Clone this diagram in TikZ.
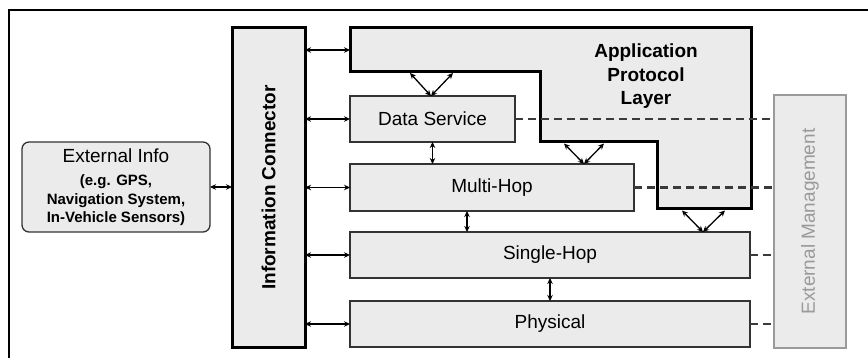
\documentclass[tikz,border=0pt]{standalone}
\usepackage{fontspec}
\setmainfont{Liberation Sans}
\usetikzlibrary{arrows.meta}
\definecolor{boxfill}{HTML}{EBEBEB}
\definecolor{edgegray}{HTML}{333333}
\definecolor{mgmtgray}{HTML}{9A9A9A}
\definecolor{dashgray}{HTML}{3A3A3A}

\begin{document}
\begin{tikzpicture}[x=1pt,y=-1pt,
  layerbox/.style={draw=edgegray, line width=1.2pt, fill=boxfill, inner sep=0pt, outer sep=0pt,
    font=\fontsize{19}{23}\selectfont},
  thickbox/.style={draw=black, line width=3pt, fill=boxfill, inner sep=0pt, outer sep=0pt},
  mgmtbox/.style={draw=mgmtgray, line width=1.4pt, fill=boxfill, inner sep=0pt, outer sep=0pt},
  link/.style={{Stealth[length=6pt,width=5.5pt]}-{Stealth[length=6pt,width=5.5pt]}, line width=1.3pt, black},
  mlink/.style={dash pattern=on 8pt off 5pt, draw=dashgray, line width=2.2pt},
  bigbold/.style={font=\fontsize{19}{23.5}\selectfont\bfseries, align=center},
]
\useasboundingbox (0,0) rectangle (868,358);

% page frame
\draw[line width=2pt] (9,358) -- (9,10) -- (868,10);

% application protocol layer outline
\coordinate (a1) at (350,28);
\coordinate (a2) at (751,28);
\coordinate (a3) at (751,209);
\coordinate (a4) at (657,209);
\coordinate (a5) at (657,142);
\coordinate (a6) at (540,142);
\coordinate (a7) at (540,71.5);
\coordinate (a8) at (350,71.5);
\draw[thickbox, line join=miter] (a1) -- (a2) -- (a3) -- (a4) -- (a5) -- (a6) -- (a7) -- (a8) -- cycle;
\node[bigbold] (app) at (646,76.5) {Application\\Protocol\\Layer};
\coordinate (appW) at (350,50);

% protocol layers
\node[layerbox, minimum width=165pt, minimum height=46pt] (ds) at (432.5,119) {Data Service};
\node[layerbox, minimum width=284pt, minimum height=47pt] (mh) at (492,187.5) {Multi-Hop};
\node[layerbox, minimum width=400pt, minimum height=46pt] (sh) at (550,255) {Single-Hop};
\node[layerbox, minimum width=400pt, minimum height=46pt] (ph) at (550,324) {Physical};

% information connector
\node[thickbox, minimum width=73pt, minimum height=319pt] (conn) at (268.5,187.5) {};
\node[rotate=90, font=\fontsize{19}{23}\selectfont\bfseries] (connlbl) at (conn.center) {Information Connector};

% external information source
\node[draw=edgegray, line width=1.3pt, fill=boxfill, rounded corners=7pt, minimum width=188pt,
  minimum height=90pt, inner sep=0pt, outer sep=0pt, align=center,
  font=\fontsize{15}{18.5}\selectfont\bfseries] (ext) at (116,187)
  {{\fontsize{19}{23}\selectfont\mdseries External Info}\\[5pt]
   (e.g. GPS,\\Navigation System,\\In-Vehicle Sensors)};

% external management
\node[mgmtbox, minimum width=72pt, minimum height=253pt] (mgmt) at (810,221.5) {};
\node[rotate=90, text=mgmtgray, font=\fontsize{19}{23}\selectfont] (mgmtlbl) at (mgmt.center) {External Management};

% management links
\draw[mlink] (ds.east) -- (mgmt.west |- ds.east);
\draw[mlink] (mh.east) -- (mgmt.west |- mh.east);
\draw[mlink] (sh.east) -- (mgmt.west |- sh.east);
\draw[mlink] (ph.east) -- (mgmt.west |- ph.east);

% connector links
\draw[link] (ext.east) -- (conn.west |- ext.east);
\draw[link] (conn.east |- appW) -- (appW);
\draw[link] (conn.east |- ds.west) -- (ds.west);
\draw[link] (conn.east |- mh.west) -- (mh.west);
\draw[link] (conn.east |- sh.west) -- (sh.west);
\draw[link] (conn.east |- ph.west) -- (ph.west);

% links between adjacent layers
\draw[link] (ds.south) -- (ds.south |- mh.north);
\coordinate (mhsh) at ([xshift=117pt]mh.south west);
\draw[link] (mhsh) -- (mhsh |- sh.north);
\draw[link] (sh.south) -- (sh.south |- ph.north);

% links from the application layer
\coordinate (v1a) at (410,73);
\coordinate (v1b) at (453,73);
\coordinate (v1) at (431,96);
\draw[link] (v1a) -- (v1);
\draw[link] (v1b) -- (v1);
\coordinate (v2a) at (564,143.5);
\coordinate (v2b) at (604,143.5);
\coordinate (v2) at (584,164);
\draw[link] (v2a) -- (v2);
\draw[link] (v2b) -- (v2);
\coordinate (v3a) at (682,210.5);
\coordinate (v3b) at (725,210.5);
\coordinate (v3) at (703,232);
\draw[link] (v3a) -- (v3);
\draw[link] (v3b) -- (v3);
\end{tikzpicture}
\end{document}
